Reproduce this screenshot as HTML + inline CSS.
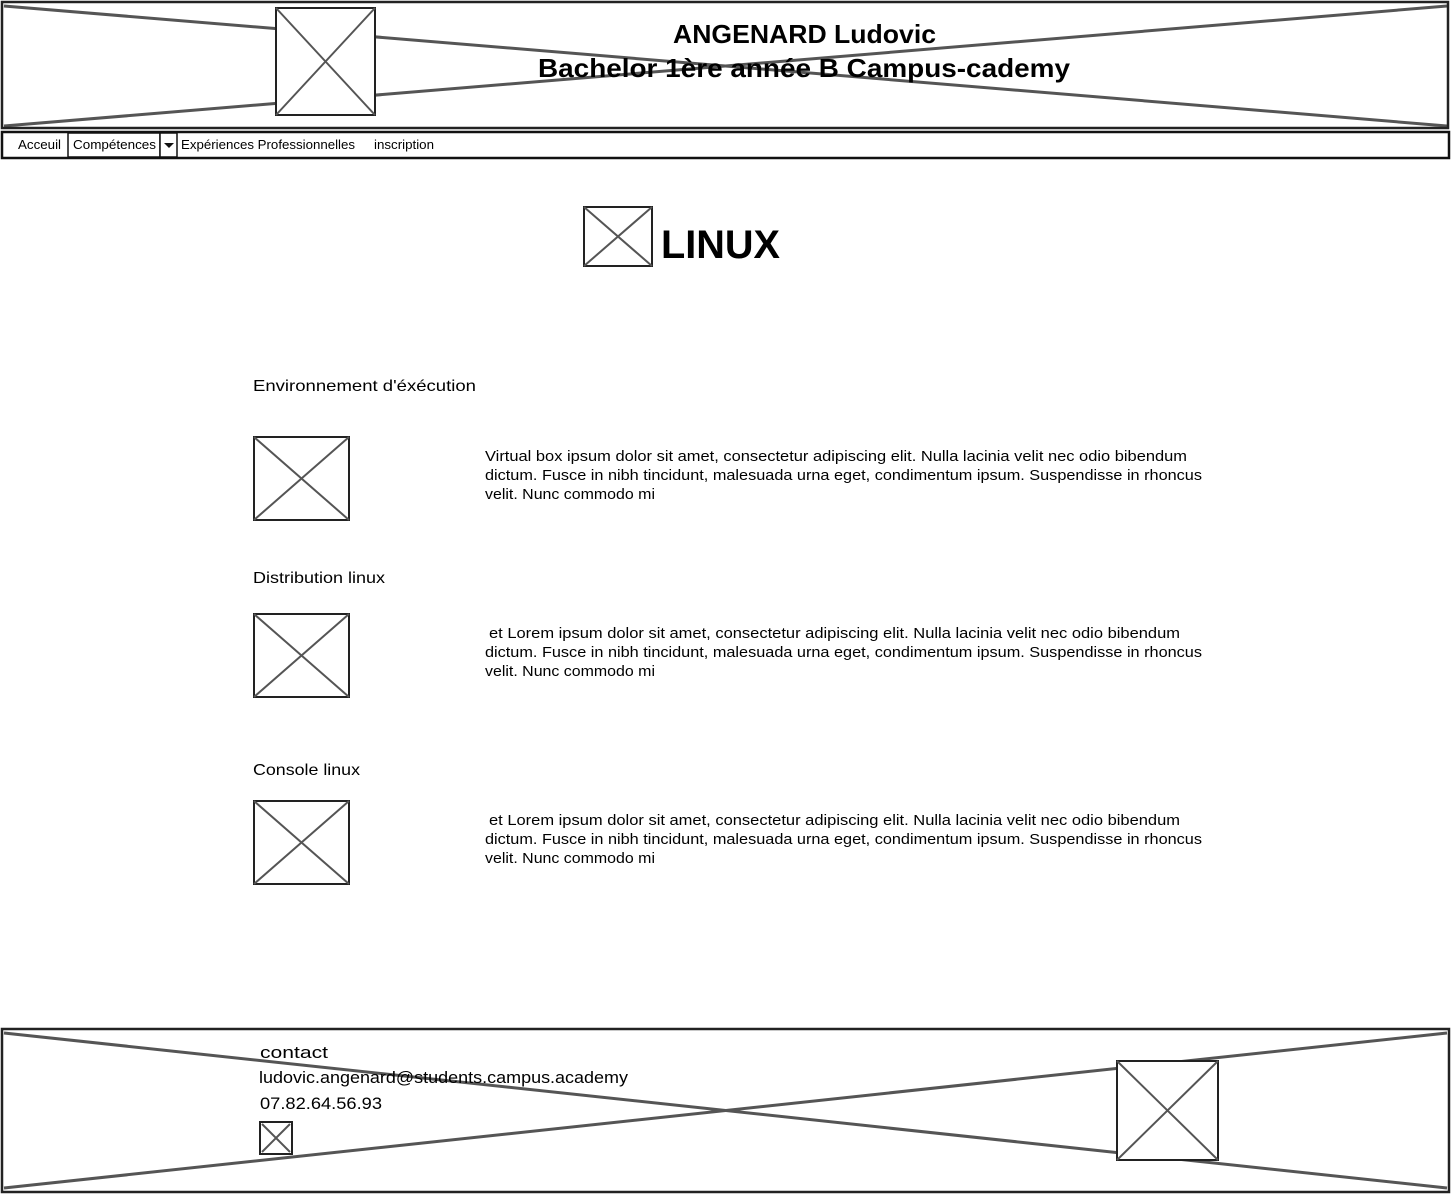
<!DOCTYPE html>
<html><head><meta charset="utf-8"><style>
html,body{margin:0;padding:0;background:#fff;width:1451px;height:1194px;overflow:hidden}
svg text{font-family:"Liberation Sans",sans-serif;fill:#000}
</style></head><body>
<svg width="1451" height="1194" xmlns="http://www.w3.org/2000/svg">
<g fill="none" stroke="#555" stroke-width="3">
<line x1="4" y1="6" x2="1447" y2="126"/><line x1="4" y1="126" x2="1447" y2="6"/>
<line x1="4" y1="1033" x2="1447" y2="1188"/><line x1="4" y1="1188" x2="1447" y2="1033"/>
</g>
<rect x="2" y="2" width="1446" height="126" fill="none" stroke="#222" stroke-width="2.5"/>
<rect x="2" y="1029" width="1447" height="163" fill="none" stroke="#222" stroke-width="2.5"/>
<rect x="2" y="132" width="1447" height="26" fill="#fff" stroke="#111" stroke-width="2.5"/>
<rect x="68" y="133" width="92" height="24" fill="#fff" stroke="#111" stroke-width="1.5"/>
<rect x="160" y="133" width="17" height="24" fill="#fff" stroke="#111" stroke-width="1.5"/>
<polygon points="164,143 174,143 169,148" fill="#111"/>
<g font-size="12.5" lengthAdjust="spacingAndGlyphs">
<text x="18" y="149" textLength="43" lengthAdjust="spacingAndGlyphs">Acceuil</text>
<text x="73" y="149" textLength="83" lengthAdjust="spacingAndGlyphs">Compétences</text>
<text x="181" y="149" textLength="174" lengthAdjust="spacingAndGlyphs">Expériences Professionnelles</text>
<text x="374" y="149" textLength="60" lengthAdjust="spacingAndGlyphs">inscription</text>
</g>
<g stroke-width="2">
<g><rect x="276" y="8" width="99" height="107" fill="#fff" stroke="#222"/><path d="M276 8L375 115M375 8L276 115" stroke="#555"/></g>
<g><rect x="584" y="207" width="68" height="59" fill="#fff" stroke="#222"/><path d="M584 207L652 266M652 207L584 266" stroke="#555"/></g>
<g><rect x="254" y="437" width="95" height="83" fill="#fff" stroke="#222"/><path d="M254 437L349 520M349 437L254 520" stroke="#555"/></g>
<g><rect x="254" y="614" width="95" height="83" fill="#fff" stroke="#222"/><path d="M254 614L349 697M349 614L254 697" stroke="#555"/></g>
<g><rect x="254" y="801" width="95" height="83" fill="#fff" stroke="#222"/><path d="M254 801L349 884M349 801L254 884" stroke="#555"/></g>
<g><rect x="260" y="1122" width="32" height="32" fill="#fff" stroke="#222"/><path d="M262 1124L290 1152M290 1124L262 1152" stroke="#555"/></g>
<g><rect x="1117" y="1061" width="101" height="99" fill="#fff" stroke="#222"/><path d="M1117 1061L1218 1160M1218 1061L1117 1160" stroke="#555"/></g>
</g>
<text x="673" y="43" font-size="26" font-weight="bold" textLength="263" lengthAdjust="spacingAndGlyphs">ANGENARD Ludovic</text>
<text x="538" y="77" font-size="26" font-weight="bold" textLength="532" lengthAdjust="spacingAndGlyphs">Bachelor 1ère année B Campus-cademy</text>
<text x="661" y="258" font-size="40" font-weight="bold" textLength="119" lengthAdjust="spacingAndGlyphs">LINUX</text>
<g font-size="16">
<text x="253" y="391" textLength="223" lengthAdjust="spacingAndGlyphs">Environnement d'éxécution</text>
<text x="253" y="583" textLength="132" lengthAdjust="spacingAndGlyphs">Distribution linux</text>
<text x="253" y="775" textLength="107" lengthAdjust="spacingAndGlyphs">Console linux</text>
</g>
<g font-size="15">
<text x="485" y="461" textLength="702" lengthAdjust="spacingAndGlyphs">Virtual box ipsum dolor sit amet, consectetur adipiscing elit. Nulla lacinia velit nec odio bibendum</text>
<text x="485" y="480" textLength="717" lengthAdjust="spacingAndGlyphs">dictum. Fusce in nibh tincidunt, malesuada urna eget, condimentum ipsum. Suspendisse in rhoncus</text>
<text x="485" y="499" textLength="170" lengthAdjust="spacingAndGlyphs">velit. Nunc commodo mi</text>
<text x="489" y="638" textLength="691" lengthAdjust="spacingAndGlyphs">et Lorem ipsum dolor sit amet, consectetur adipiscing elit. Nulla lacinia velit nec odio bibendum</text>
<text x="485" y="657" textLength="717" lengthAdjust="spacingAndGlyphs">dictum. Fusce in nibh tincidunt, malesuada urna eget, condimentum ipsum. Suspendisse in rhoncus</text>
<text x="485" y="676" textLength="170" lengthAdjust="spacingAndGlyphs">velit. Nunc commodo mi</text>
<text x="489" y="825" textLength="691" lengthAdjust="spacingAndGlyphs">et Lorem ipsum dolor sit amet, consectetur adipiscing elit. Nulla lacinia velit nec odio bibendum</text>
<text x="485" y="844" textLength="717" lengthAdjust="spacingAndGlyphs">dictum. Fusce in nibh tincidunt, malesuada urna eget, condimentum ipsum. Suspendisse in rhoncus</text>
<text x="485" y="863" textLength="170" lengthAdjust="spacingAndGlyphs">velit. Nunc commodo mi</text>
</g>
<g font-size="17">
<text x="260" y="1058" textLength="68" lengthAdjust="spacingAndGlyphs">contact</text>
<text x="259" y="1083" textLength="369" lengthAdjust="spacingAndGlyphs">ludovic.angenard@students.campus.academy</text>
<text x="260" y="1109" textLength="122" lengthAdjust="spacingAndGlyphs">07.82.64.56.93</text>
</g>
</svg>
</body></html>
